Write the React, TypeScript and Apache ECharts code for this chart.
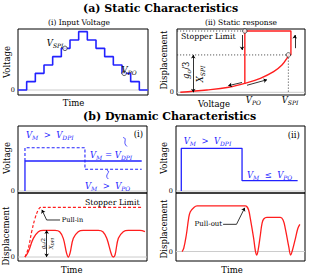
import React, { useEffect, useRef } from "react";
import * as echarts from "echarts";

const W = 314;
const H = 275;
const FAM = "'DejaVu Serif', 'Liberation Serif', serif";
const BLUE = "#2222ff";
const RED = "#ff1e1e";
const GREY = "#cccccc";

// ----- data -----
// (a)(i) input voltage staircase, one level per time step
const stepLevels = [0, 1, 2, 3, 4, 5, 6, 7, 6, 5, 4, 3, 2, 1, 0];
const markSPI = [5.42, 5];
const markPO = [12.25, 2];

// (a)(ii) static response (voltage, displacement)
const staticVolt = [2.6, 23.4, 40.4, 53, 65.1, 75.5, 82, 85.9, 87];
const staticDisp = [0, 0.037, 0.082, 0.145, 0.228, 0.336, 0.445, 0.555, 0.61];
const vPO = 53;
const vSPI = 87;
const vJump = 89;
const xSPI = 0.61;
const stopLimit = 1;

// (b)(i) applied voltage
const biSolidT = [5.4, 5.4, 95.9];
const biSolidV = [0, 3, 3];
const biDashT = [5.4, 5.4, 51.9, 51.9, 95.9];
const biDashV = [3, 4.33, 4.33, 2.17, 2.17];
// (b)(ii) applied voltage
const biiT = [4.1, 4.1, 51.2, 51.2, 94.3];
const biiV = [0, 4.27, 4.27, 1.03, 1.03];

// (b)(i) displacement
const pullInT = [5.4, 8.0, 10.6, 13.2, 15.7, 17.6, 20, 96.5];
const pullInD = [0, 0.175, 0.509, 0.779, 0.946, 1, 1, 1];
const dynIT = [5.4, 8.0, 11.9, 15.8, 19.6, 28.8, 32.3, 35.1, 37.7, 39.0, 40.3, 42.9, 46.7, 50.6, 62.3, 65.8, 68.8, 72.6, 73.9, 75.2, 77.8, 81.6, 85.5, 94.5, 98.4];
const dynID = [0, 0.107, 0.376, 0.51, 0.537, 0.537, 0.51, 0.376, 0.074, 0, 0.074, 0.376, 0.51, 0.537, 0.537, 0.51, 0.376, 0.04, 0, 0.04, 0.376, 0.51, 0.537, 0.537, 0.51];
// (b)(ii) displacement
const dynIIT = [4.7, 6.0, 8.0, 9.8, 11.1, 13.7, 16.3, 53.7, 55.0, 56.3, 57.6, 60.2, 61.5, 62.5, 63.6, 65.4, 66.7, 68.0, 70.5, 80.9, 83.0, 84.7, 87.4, 88.9, 90.2, 92.6, 94.5, 96.0];
const dynIID = [0, 0.065, 0.332, 0.668, 0.801, 0.882, 0.916, 0.916, 0.901, 0.835, 0.668, 0.266, 0.02, -0.07, 0.02, 0.332, 0.567, 0.654, 0.688, 0.688, 0.634, 0.467, 0.097, -0.07, 0.02, 0.266, 0.467, 0.547];

// ----- layout -----
const grids = [
  { left: 18, top: 29, width: 130, height: 66 },
  { left: 177, top: 29, width: 128, height: 66 },
  { left: 18, top: 126, width: 129, height: 67 },
  { left: 176, top: 126, width: 129, height: 67 },
  { left: 18, top: 193, width: 129, height: 68 },
  { left: 176, top: 193, width: 129, height: 68 },
];
const xRanges = [[0, 15], [0, 100], [0, 100], [0, 100], [0, 100], [0, 100]];
const yRanges = [[-0.6, 7.32], [-0.044, 1.033], [-0.2, 6.5], [-0.2, 6.5], [-0.08, 1.288], [-0.191, 1.177]];

const zip = (a: number[], b: number[]) => a.map((v, i) => [v, b[i]]);
const fnt = (size: number, italic = false, bold = false) =>
  `${italic ? "italic " : ""}${bold ? "bold " : ""}${size}px ${FAM}`;

const lineS = (g: number, data: number[][], color: string, width: number, extra: any = {}) => ({
  type: "line",
  xAxisIndex: g,
  yAxisIndex: g,
  data,
  symbol: "none",
  showSymbol: false,
  silent: true,
  lineStyle: { color, width, ...(extra.lineStyle || {}) },
  z: extra.z ?? 3,
  smooth: extra.smooth ?? false,
  step: extra.step ?? false,
});

const arrowS = (g: number, segs: number[][][], both: boolean, color = "#000", width = 0.8) => ({
  type: "lines",
  coordinateSystem: "cartesian2d",
  xAxisIndex: g,
  yAxisIndex: g,
  symbol: both ? ["arrow", "arrow"] : ["none", "arrow"],
  symbolSize: 3.5,
  silent: true,
  z: 6,
  lineStyle: { color, width, opacity: 1, curveness: 0 },
  data: segs.map((c) => ({ coords: c })),
});

const circles = (g: number, pts: number[][]) => ({
  type: "scatter",
  xAxisIndex: g,
  yAxisIndex: g,
  data: pts,
  symbol: "circle",
  symbolSize: 4.5,
  silent: true,
  z: 8,
  itemStyle: { color: "#fff", borderColor: "#222", borderWidth: 0.9 },
});

function buildOption() {
  const series: any[] = [];
  // zero reference lines
  grids.forEach((_, g) => {
    series.push(lineS(g, [[xRanges[g][0], 0], [xRanges[g][1], 0]], GREY, 1, { z: 1 }));
  });
  // (a)(i)
  const stairs = stepLevels.map((v, i) => [i, v]);
  stairs.push([stepLevels.length, stepLevels[stepLevels.length - 1]]);
  series.push(lineS(0, stairs, BLUE, 1.6, { step: "end" }));
  series.push(circles(0, [markSPI, markPO]));
  // (a)(ii)
  series.push(lineS(1, [[0, stopLimit], [vPO, stopLimit]], "#333", 0.8, { lineStyle: { type: [1.2, 1.8] }, z: 2 }));
  series.push(lineS(1, [[0, xSPI], [vSPI, xSPI], [vSPI, 0]], "#333", 0.8, { lineStyle: { type: [1.2, 1.8] }, z: 2 }));
  series.push(lineS(1, zip(staticVolt, staticDisp), RED, 1.4, { smooth: 0.4 }));
  series.push(lineS(1, [[vPO, staticDisp[3]], [vPO, stopLimit], [vJump, stopLimit], [vJump, xSPI], [vSPI, xSPI]], RED, 1.4));
  series.push(circles(1, [[vPO, stopLimit], [vSPI, xSPI]]));
  series.push(arrowS(1, [[[50.8, 0.935], [50.8, 0.69]], [[92, 0.72], [92, 0.935]], [[50.8, 0.16], [40.1, 0.108]], [[54.7, 0.115], [70.3, 0.205]]], false));
  series.push(arrowS(1, [[[12.7, xSPI], [12.7, 0]]], true));
  // (b)(i) voltage
  series.push(lineS(2, zip(biSolidT, biSolidV), BLUE, 1.3));
  series.push(lineS(2, zip(biDashT, biDashV), BLUE, 1.1, { lineStyle: { type: [3, 2] } }));
  // (b)(ii) voltage
  series.push(lineS(3, zip(biiT, biiV), BLUE, 1.3));
  // (b)(i) displacement
  series.push(lineS(4, zip(pullInT, pullInD), RED, 1.2, { smooth: 0.4, lineStyle: { type: [3, 2] } }));
  series.push(lineS(4, zip(dynIT, dynID), RED, 1.3, { smooth: 0.4 }));
  series.push(arrowS(4, [[[22.2, 0.537], [22.2, 0]]], true));
  series.push(lineS(4, [[32.6, 0.745], [22.2, 0.745]], "#000", 0.8, { z: 6 }));
  series.push(arrowS(4, [[[22.2, 0.745], [18.5, 0.95]]], false));
  // (b)(ii) displacement
  series.push(lineS(5, zip(dynIIT, dynIID), RED, 1.3, { smooth: 0.4 }));
  series.push(lineS(5, [[36.5, 0.547], [46.9, 0.547]], "#000", 0.8, { z: 6 }));
  series.push(arrowS(5, [[[46.9, 0.547], [53.3, 0.88]]], false));

  return {
    animation: false,
    backgroundColor: "#fff",
    textStyle: { fontFamily: FAM },
    grid: grids.map((g) => ({ ...g, show: true, borderColor: "#000", borderWidth: 1, backgroundColor: "transparent" })),
    xAxis: grids.map((_, i) => ({
      type: "value",
      gridIndex: i,
      min: xRanges[i][0],
      max: xRanges[i][1],
      axisLine: { show: false },
      axisTick: { show: false },
      axisLabel: { show: false },
      splitLine: { show: false },
    })),
    yAxis: grids.map((_, i) => ({
      type: "value",
      gridIndex: i,
      min: yRanges[i][0],
      max: yRanges[i][1],
      axisLine: { show: false },
      axisTick: { show: false },
      splitLine: { show: false },
      axisLabel: { show: true, customValues: [0], fontFamily: FAM, fontSize: 6.5, color: "#000", margin: 3 },
    })),
    series,
  };
}

const rich = (color: string, size: number, sub: number) => ({
  v: { font: fnt(size, true), fontFamily: FAM, fontStyle: "italic", fontSize: size, fill: color, lineHeight: size + 2 },
  s: { font: fnt(sub, true), fontFamily: FAM, fontStyle: "italic", fontSize: sub, fill: color, lineHeight: 5, verticalAlign: "bottom" },
  o: { font: fnt(size), fontFamily: FAM, fontSize: size, fill: color, lineHeight: size + 2 },
});

type Ann = { g: number; p: number[]; t: string; align?: string; rot?: number; color?: string; size?: number; sub?: number };

const annotations: Ann[] = [
  { g: 0, p: [5.25, 5.6], t: "{v|V}{s|SPI}", align: "right" },
  { g: 0, p: [11.95, 2.35], t: "{v|V}{s|PO}" },
  { g: 1, p: [3.1, 0.915], t: "Stopper Limit", size: 7.8 },
  { g: 1, p: [7.0, 0.36], t: "{v|g}{s|o}{o|/3}", align: "center", rot: Math.PI / 2 },
  { g: 1, p: [18, 0.3], t: "{v|X}{s|SPI}", align: "center", rot: Math.PI / 2 },
  { g: 1, p: [53.8, -0.125], t: "{v|V}{s|PO}" },
  { g: 1, p: [81.8, -0.125], t: "{v|V}{s|SPI}" },
  { g: 2, p: [6.2, 5.6], t: "{v|V}{s|M}{o|  >  }{v|V}{s|DPI}", color: BLUE },
  { g: 2, p: [96.9, 5.7], t: "{o|(i)}", align: "right" },
  { g: 2, p: [55.8, 3.6], t: "{v|V}{s|M}{o| = }{v|V}{s|DPI}", color: BLUE },
  { g: 2, p: [51.9, 0.5], t: "{v|V}{s|M}{o|  >  }{v|V}{s|PO}", color: BLUE },
  { g: 3, p: [5.97, 5.0], t: "{v|V}{s|M}{o|  >  }{v|V}{s|DPI}", color: BLUE },
  { g: 3, p: [55, 1.6], t: "{v|V}{s|M}{o|  ≤  }{v|V}{s|PO}", color: BLUE },
  { g: 3, p: [96, 5.6], t: "{o|(ii)}", align: "right" },
  { g: 4, p: [51.9, 1.1], t: "Stopper Limit", size: 7.8 },
  { g: 4, p: [33.9, 0.745], t: "Pull-in", size: 6.6 },
  { g: 4, p: [19.3, 0.27], t: "{v|g}{s|o}{o|/2}", align: "center", rot: Math.PI / 2, size: 5.5, sub: 4 },
  { g: 4, p: [25.5, 0.27], t: "{v|X}{s|DPI}", align: "center", rot: Math.PI / 2, size: 5.5, sub: 4 },
  { g: 5, p: [35.8, 0.547], t: "Pull-out", align: "right", size: 7 },
];

const labels = [
  { x: 83, y: 8, t: "(a) Static Characteristics", bold: true, size: 11, align: "left" },
  { x: 83, y: 116.5, t: "(b) Dynamic Characteristics", bold: true, size: 11, align: "left" },
  { x: 79, y: 22.5, t: "(i) Input Voltage", size: 7.5 },
  { x: 241, y: 22.5, t: "(ii) Static response", size: 7.5 },
  { x: 6.5, y: 62, t: "Voltage", rot: true },
  { x: 73.5, y: 102.5, t: "Time" },
  { x: 163.5, y: 60, t: "Displacement", rot: true },
  { x: 214, y: 103.5, t: "Voltage" },
  { x: 6.5, y: 158, t: "Voltage", rot: true },
  { x: 163.5, y: 158, t: "Voltage", rot: true },
  { x: 6, y: 236, t: "Displacement", rot: true },
  { x: 163.5, y: 229, t: "Displacement", rot: true },
  { x: 71.7, y: 269.5, t: "Time" },
  { x: 232, y: 269.5, t: "Time" },
];

function buildGraphic(chart: any) {
  const els: any[] = [];
  labels.forEach((l: any) => {
    const size = l.size || 8.5;
    els.push({
      type: "text",
      x: l.x,
      y: l.y,
      rotation: l.rot ? Math.PI / 2 : 0,
      silent: true,
      style: {
        text: l.t,
        font: fnt(size, false, !!l.bold),
        fill: "#000",
        align: l.align || "center",
        verticalAlign: "middle",
      },
    });
  });
  annotations.forEach((a) => {
    const [px, py] = chart.convertToPixel({ gridIndex: a.g }, a.p);
    const color = a.color || "#000";
    const size = a.size || 8.5;
    els.push({
      type: "text",
      x: px,
      y: py,
      rotation: a.rot || 0,
      silent: true,
      z: 10,
      style: {
        text: a.t,
        rich: rich(color, size, a.sub || 6),
        font: fnt(size),
        fill: color,
        align: a.align || "left",
        verticalAlign: "middle",
      },
    });
  });
  // small curly connectors in (b)(i)
  const braces = [
    [[81.5, 5.35], [84.5, 4.45]],
    [[69, 2.05], [70, 1.2]],
  ];
  braces.forEach(([a, b]) => {
    const [x1, y1] = chart.convertToPixel({ gridIndex: 2 }, a);
    const [x2, y2] = chart.convertToPixel({ gridIndex: 2 }, b);
    els.push({
      type: "bezierCurve",
      silent: true,
      z: 10,
      shape: { x1, y1, x2, y2, cpx1: x1 + 5, cpy1: y1 + 1, cpx2: x2 - 5, cpy2: y2 - 4 },
      style: { stroke: BLUE, lineWidth: 0.8, fill: null },
    });
  });
  return els;
}

export default function App() {
  const ref = useRef<HTMLDivElement>(null);
  useEffect(() => {
    const chart = echarts.init(ref.current!, null, { renderer: "svg" });
    chart.setOption(buildOption() as any);
    chart.setOption({ graphic: buildGraphic(chart) } as any);
    return () => chart.dispose();
  }, []);
  return (
    <div
      ref={ref}
      style={{ position: "fixed", left: 0, top: 0, width: W, height: H, background: "#fff" }}
    />
  );
}
